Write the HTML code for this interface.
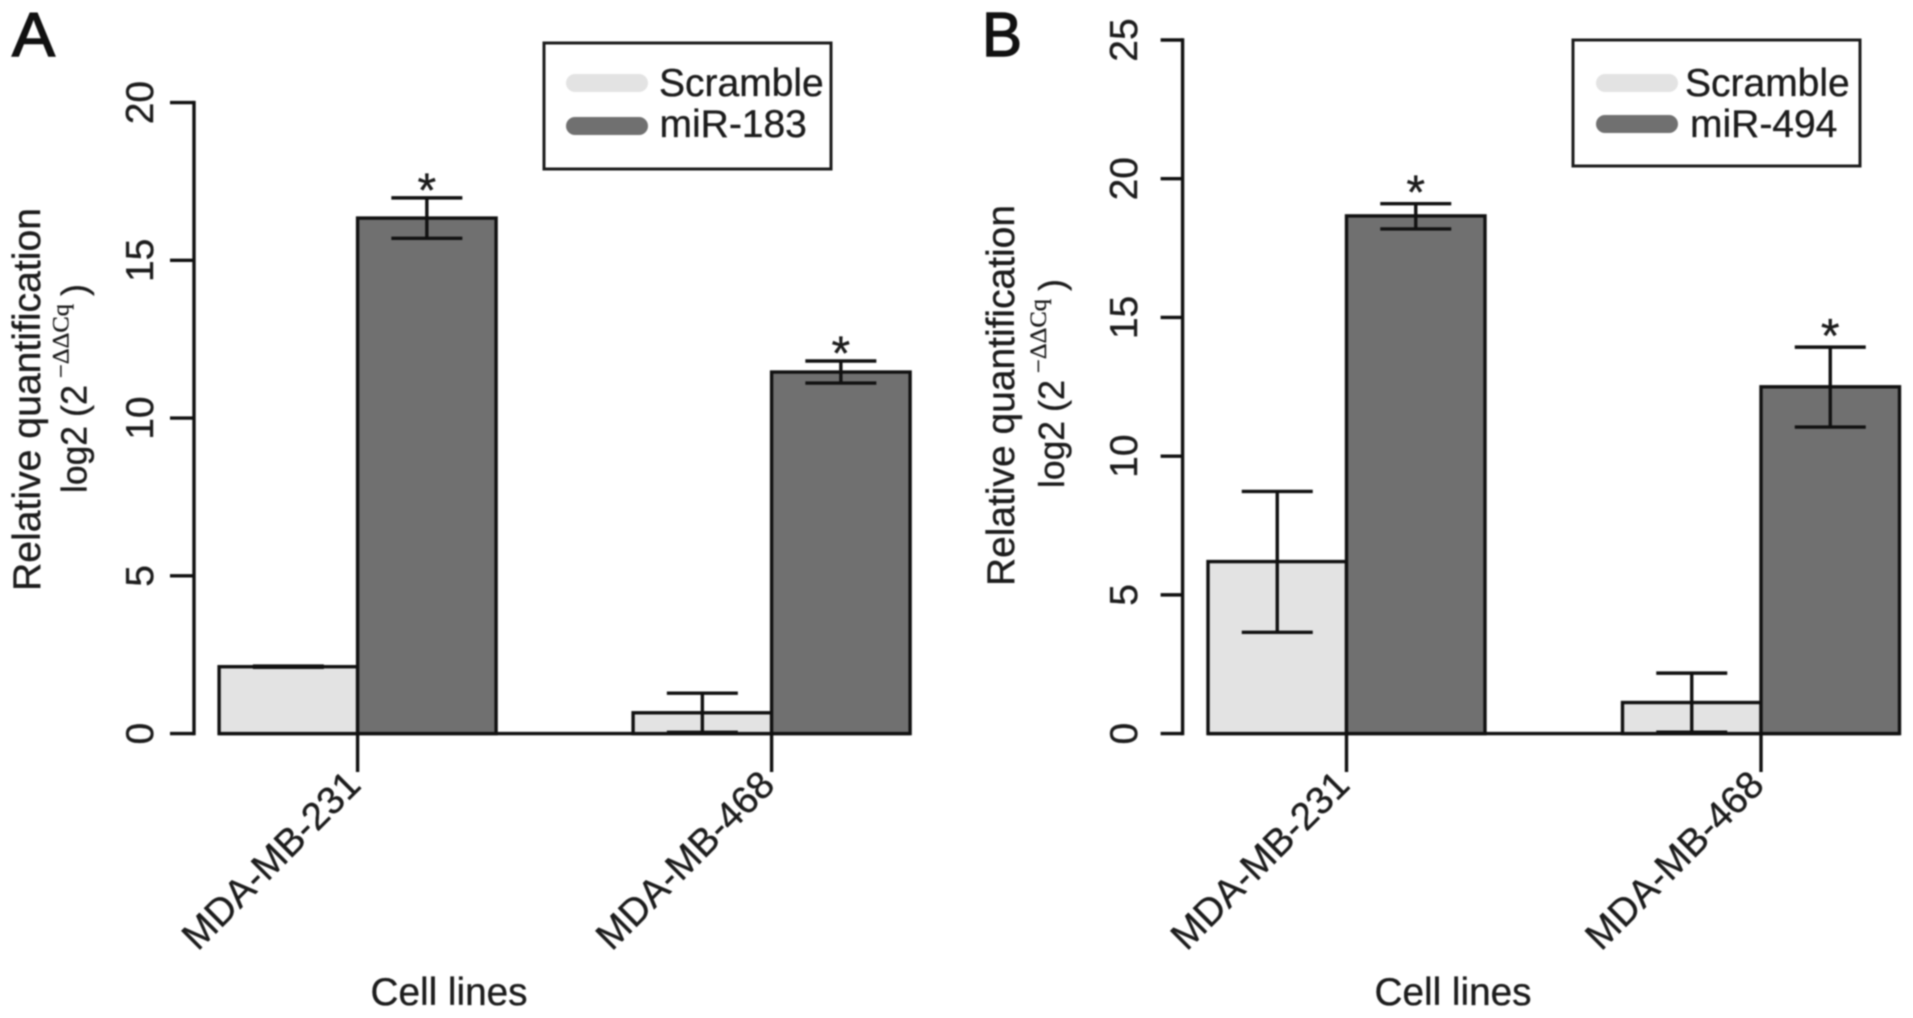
<!DOCTYPE html>
<html lang="en">
<head>
<meta charset="utf-8">
<title>Relative quantification of miR-183 and miR-494</title>
<style>
html,body{margin:0;padding:0;background:#fff;}
body{width:1913px;height:1018px;overflow:hidden;}
svg{display:block;filter:blur(0.7px);}
text{font-family:"Liberation Sans",sans-serif;fill:#1c1c1c;stroke:#1c1c1c;stroke-width:0.35px;}
.sup{font-family:"Liberation Serif",serif;}
</style>
</head>
<body>
<svg id="figure" xmlns="http://www.w3.org/2000/svg" width="1913" height="1018" viewBox="0 0 1913 1018">
  <rect x="0" y="0" width="1913" height="1018" fill="#fff"/>

  <g id="panel-a">
    <text x="12" y="56" font-size="62" style="stroke:#111;stroke-width:1.4px;fill:#111" textLength="43" lengthAdjust="spacingAndGlyphs">A</text>
    <text transform="translate(40 591) rotate(-90)" font-size="39" textLength="383" lengthAdjust="spacingAndGlyphs">Relative quantification</text>
    <g transform="translate(86.7 493) rotate(-90)">
      <text font-size="36" textLength="67" lengthAdjust="spacingAndGlyphs">log2</text>
      <text x="76" font-size="36">(2</text>
      <text class="sup" x="115" y="-18" font-size="23" textLength="74" lengthAdjust="spacingAndGlyphs">−ΔΔCq</text>
      <text x="197" font-size="36">)</text>
    </g>
    <text x="449" y="1005" font-size="38.7" text-anchor="middle">Cell lines</text>
    <g>
      <rect x="544" y="43" width="287" height="126" fill="#fff" stroke="#1c1c1c" stroke-width="3"/>
      <line x1="575" y1="83" x2="639" y2="83" stroke="#e3e3e3" stroke-width="18" stroke-linecap="round"/>
      <line x1="575" y1="126" x2="639" y2="126" stroke="#707070" stroke-width="18" stroke-linecap="round"/>
      <text x="659" y="96" font-size="39">Scramble</text>
      <text x="659.5" y="137" font-size="39">miR-183</text>
    </g>
  </g>

  <g id="panel-b">
    <text x="982" y="56" font-size="62" style="stroke:#111;stroke-width:1.4px;fill:#111" textLength="40" lengthAdjust="spacingAndGlyphs">B</text>
    <text transform="translate(1014 586) rotate(-90)" font-size="39" textLength="381" lengthAdjust="spacingAndGlyphs">Relative quantification</text>
    <g transform="translate(1064 488) rotate(-90)">
      <text font-size="36" textLength="67" lengthAdjust="spacingAndGlyphs">log2</text>
      <text x="76" font-size="36">(2</text>
      <text class="sup" x="115" y="-18" font-size="23" textLength="74" lengthAdjust="spacingAndGlyphs">−ΔΔCq</text>
      <text x="197" font-size="36">)</text>
    </g>
    <text x="1453" y="1005" font-size="38.7" text-anchor="middle">Cell lines</text>
    <g>
      <rect x="1573" y="40" width="287" height="126" fill="#fff" stroke="#1c1c1c" stroke-width="3"/>
      <line x1="1605" y1="83" x2="1669" y2="83" stroke="#e3e3e3" stroke-width="18" stroke-linecap="round"/>
      <line x1="1605" y1="124" x2="1669" y2="124" stroke="#707070" stroke-width="18" stroke-linecap="round"/>
      <text x="1685" y="96" font-size="39">Scramble</text>
      <text x="1690" y="137" font-size="39">miR-494</text>
    </g>
  </g>
</svg>

<script>
// Chart data
const categories = ['MDA-MB-231', 'MDA-MB-468'];

const ticksA = [0, 5, 10, 15, 20];
const scrambleA = [2.12, 0.66];
const scrambleHighA = [2.14, 1.28];
const scrambleLowA = [2.10, 0.04];
const mirA = [16.34, 11.46];
const mirHighA = [16.98, 11.81];
const mirLowA = [15.70, 11.11];

const ticksB = [0, 5, 10, 15, 20, 25];
const scrambleB = [6.20, 1.12];
const scrambleHighB = [8.73, 2.18];
const scrambleLowB = [3.65, 0.05];
const mirB = [18.66, 12.50];
const mirHighB = [19.10, 13.93];
const mirLowB = [18.19, 11.05];

const SVGNS = 'http://www.w3.org/2000/svg';
const INK = '#111';
const LIGHT_FILL = '#e3e3e3';
const DARK_FILL = '#707070';

function make(parent, tag, attrs, content) {
  const node = document.createElementNS(SVGNS, tag);
  Object.keys(attrs).forEach(function (k) { node.setAttribute(k, attrs[k]); });
  if (content !== undefined) node.textContent = content;
  parent.appendChild(node);
  return node;
}

function drawBar(parent, x, y, w, h, fill, label) {
  const el = make(parent, 'rect', { x: x, y: y, width: w, height: h, fill: fill, stroke: INK, 'stroke-width': 3.4 });
  
  
}

function drawErrorBar(parent, cx, yHigh, yLow, capHalf, label) {
  const g = make(parent, 'g', { stroke: INK, 'stroke-width': 3.4 });
  
  
  make(g, 'line', { x1: cx, x2: cx, y1: yHigh, y2: yLow });
  make(g, 'line', { x1: cx - capHalf, x2: cx + capHalf, y1: yHigh, y2: yHigh });
  make(g, 'line', { x1: cx - capHalf, x2: cx + capHalf, y1: yLow, y2: yLow });
}

function drawPanel(parentId, layout, ticks, lightVals, lightHigh, lightLow, darkVals, darkHigh, darkLow) {
  const parent = document.getElementById(parentId);
  const domainMax = ticks[ticks.length - 1];
  const yScale = function (v) { return layout.y0 - v / domainMax * (layout.y0 - layout.yTop); };
  const groupX = function (i) { return layout.firstGroupX + i * layout.groupStep; };

  const axis = make(parent, 'g', { stroke: INK, 'stroke-width': 3.4, fill: 'none' });
  
  
  make(axis, 'line', { x1: layout.axisX, x2: layout.axisX, y1: yScale(0) + 1.7, y2: yScale(domainMax) - 1.7 });

  ticks.forEach(function (t) {
    const y = yScale(t);
    const tick = make(axis, 'line', { x1: layout.axisX - layout.tickLen, x2: layout.axisX, y1: y, y2: y });
    
    
    const label = make(parent, 'text', {
      transform: 'translate(' + layout.tickLabelX + ' ' + y + ') rotate(-90)',
      'font-size': 39, 'text-anchor': 'middle'
    }, String(t));
    
    
  });

  const baseline = make(parent, 'line', {
    x1: groupX(0) - layout.barW, x2: groupX(categories.length - 1) + layout.barW,
    y1: yScale(0), y2: yScale(0), stroke: INK, 'stroke-width': 3.4
  });
  
  

  categories.forEach(function (cat, i) {
    const c = groupX(i);
    const y0 = yScale(0);

    const xt = make(parent, 'line', { x1: c, x2: c, y1: y0, y2: layout.xTickEnd, stroke: INK, 'stroke-width': 3.4 });
    
    

    drawBar(parent, c - layout.barW, yScale(lightVals[i]), layout.barW, y0 - yScale(lightVals[i]), LIGHT_FILL, 'scramble-' + cat);
    drawBar(parent, c, yScale(darkVals[i]), layout.barW, y0 - yScale(darkVals[i]), DARK_FILL, 'mirna-' + cat);

    drawErrorBar(parent, c - layout.barW / 2, yScale(lightHigh[i]), yScale(lightLow[i]), layout.capHalf, 'scramble-' + cat);
    drawErrorBar(parent, c + layout.barW / 2, yScale(darkHigh[i]), yScale(darkLow[i]), layout.capHalf, 'mirna-' + cat);

    const star = make(parent, 'text', {
      x: c + layout.barW / 2, y: yScale(darkHigh[i]) + layout.starDrop, 'font-size': 48, 'text-anchor': 'middle'
    }, '*');
    
    

    const cl = make(parent, 'text', {
      transform: 'translate(' + (c + 5) + ' ' + (layout.xTickEnd + 15) + ') rotate(-45)',
      'font-size': 38.5, 'text-anchor': 'end'
    }, cat);
    
    
  });
}

drawPanel('panel-a',
  { axisX: 194, tickLen: 24, tickLabelX: 153, y0: 733.6, yTop: 102.6, firstGroupX: 357.6, groupStep: 414, barW: 138.5, capHalf: 35.5, xTickEnd: 772, starDrop: 8.5 },
  ticksA, scrambleA, scrambleHighA, scrambleLowA, mirA, mirHighA, mirLowA);

drawPanel('panel-b',
  { axisX: 1182.6, tickLen: 22, tickLabelX: 1137, y0: 733.6, yTop: 40, firstGroupX: 1346.5, groupStep: 414.5, barW: 138.5, capHalf: 35.5, xTickEnd: 772, starDrop: 5 },
  ticksB, scrambleB, scrambleHighB, scrambleLowB, mirB, mirHighB, mirLowB);
</script>
</body>
</html>
